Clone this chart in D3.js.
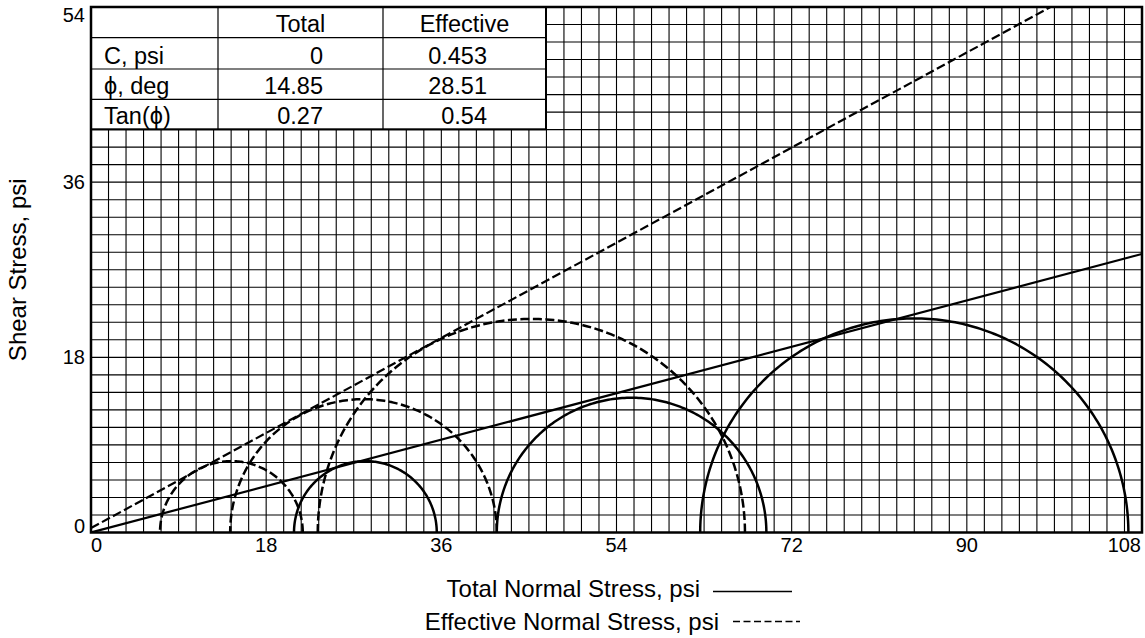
<!DOCTYPE html>
<html><head><meta charset="utf-8">
<script src="https://cdn.jsdelivr.net/npm/d3@7"></script>
<style>body{margin:0;background:#fff}svg{display:block}text{font-family:"Liberation Sans",Arial,sans-serif;fill:#000}</style>
</head><body><svg id="c" width="1145" height="638"></svg>
<script>
// ---- data ----
const xTicks = [0, 18, 36, 54, 72, 90, 108];
const yTicks = [0, 18, 36, 54];
const totalSigma3 = [20.86, 41.7, 62.6];
const totalSigma1 = [35.53, 69.4, 106.6];
const effSigma3 = [7.09, 14.3, 23.3];
const effSigma1 = [21.76, 41.7, 67.2];
const envelopeNames = ["Total", "Effective"];
const envelopeC = [0, 0.453];
const envelopeTan = [0.265, 0.543];
const tableHeader = ["", "Total", "Effective"];
const tableRowLabels = ["C, psi", "\u03d5, deg", "Tan(\u03d5)"];
const tableTotal = ["0", "14.85", "0.27"];
const tableEffective = ["0.453", "28.51", "0.54"];
const legendLabels = ["Total Normal Stress, psi", "Effective Normal Stress, psi"];

// ---- layout ----
const L = 91, T = 7, R = 1142, B = 532.5;
const svg = d3.select("#c");
const x = d3.scaleLinear().domain([0, 108]).range([L, R]);
const y = d3.scaleLinear().domain([0, 54]).range([B, T]);

svg.append("defs").append("clipPath").attr("id", "clip")
  .append("rect").attr("x", L).attr("y", T).attr("width", R - L).attr("height", B - T);

// grid
const gx = d3.range(0, 61).map(i => i * 1.8);
const gy = d3.range(0, 31).map(i => i * 1.8);
const grid = svg.append("g").attr("stroke", "#000").attr("stroke-width", 1.1);
grid.selectAll("line.v").data(gx).join("line").attr("class", "v")
  .attr("x1", d => x(d)).attr("x2", d => x(d)).attr("y1", T).attr("y2", B);
grid.selectAll("line.h").data(gy).join("line").attr("class", "h")
  .attr("y1", d => y(d)).attr("y2", d => y(d)).attr("x1", L).attr("x2", R);

// circles
const plot = svg.append("g").attr("clip-path", "url(#clip)");
function semi(s3, s1) {
  const c = (s3 + s1) / 2, r = (s1 - s3) / 2;
  const pts = d3.range(0, 181).map(a => {
    const t = a * Math.PI / 180;
    return [c + r * Math.cos(t), r * Math.sin(t)];
  });
  return d3.line().x(d => x(d[0])).y(d => y(d[1]))(pts);
}
const totals = totalSigma3.map((s, i) => [s, totalSigma1[i]]);
const effs = effSigma3.map((s, i) => [s, effSigma1[i]]);
plot.selectAll("path.tc").data(totals).join("path").attr("class", "tc")
  .attr("d", d => semi(d[0], d[1])).attr("fill", "none").attr("stroke", "#000").attr("stroke-width", 2.5);
plot.selectAll("path.ec").data(effs).join("path").attr("class", "ec")
  .attr("d", d => semi(d[0], d[1])).attr("fill", "none").attr("stroke", "#000").attr("stroke-width", 2.5)
  .attr("stroke-dasharray", "9,3.5");

// envelopes
envelopeNames.forEach((n, i) => {
  plot.append("line")
    .attr("x1", x(0)).attr("y1", y(envelopeC[i]))
    .attr("x2", x(108)).attr("y2", y(envelopeC[i] + envelopeTan[i] * 108))
    .attr("stroke", "#000").attr("stroke-width", 2.2)
    .attr("stroke-dasharray", i === 1 ? "9,3.5" : null);
});

// table
const colX = [L, 218, 383, 546];
const rowY = [T, 37.7, 69, 99.3, 129.3];
const tg = svg.append("g");
tg.append("rect").attr("x", L).attr("y", T).attr("width", colX[3] - L).attr("height", rowY[4] - T)
  .attr("fill", "#fff").attr("stroke", "#000").attr("stroke-width", 2);
rowY.slice(1, 4).forEach(v => tg.append("line").attr("x1", L).attr("x2", colX[3]).attr("y1", v).attr("y2", v)
  .attr("stroke", "#000").attr("stroke-width", 1.2));
colX.slice(1, 3).forEach(v => tg.append("line").attr("x1", v).attr("x2", v).attr("y1", T).attr("y2", rowY[4])
  .attr("stroke", "#000").attr("stroke-width", 1.2));
const fs = 23.5;
tableHeader.forEach((h, j) => {
  if (!h) return;
  tg.append("text").attr("x", (colX[j] + colX[j + 1]) / 2).attr("y", rowY[1] - 5.5)
    .attr("text-anchor", "middle").attr("font-size", fs).text(h);
});
tableRowLabels.forEach((lab, i) => {
  const by = rowY[i + 2] - 5.5;
  tg.append("text").attr("x", 104).attr("y", by).attr("font-size", fs).text(lab);
  tg.append("text").attr("x", colX[2] - 60).attr("y", by).attr("text-anchor", "end").attr("font-size", fs).text(tableTotal[i]);
  tg.append("text").attr("x", colX[3] - 59).attr("y", by).attr("text-anchor", "end").attr("font-size", fs).text(tableEffective[i]);
});

// frame
svg.append("rect").attr("x", L).attr("y", T).attr("width", R - L).attr("height", B - T)
  .attr("fill", "none").attr("stroke", "#000").attr("stroke-width", 2.5);

// tick labels
const tf = 20;
svg.selectAll("text.xt").data(xTicks).join("text").attr("class", "xt")
  .attr("x", (d, i) => i === 0 ? x(d) : i === xTicks.length - 1 ? x(d) - 1 : x(d))
  .attr("y", 552).attr("font-size", tf)
  .attr("text-anchor", (d, i) => i === 0 ? "start" : i === xTicks.length - 1 ? "end" : "middle")
  .text(d => d);
svg.selectAll("text.yt").data(yTicks).join("text").attr("class", "yt")
  .attr("x", 85).attr("y", (d, i) => i === 0 ? y(d) : i === yTicks.length - 1 ? y(d) + 1 : y(d))
  .attr("font-size", tf).attr("text-anchor", "end")
  .attr("dominant-baseline", (d, i) => i === 0 ? "alphabetic" : i === yTicks.length - 1 ? "hanging" : "central")
  .text(d => d);

// axis title
svg.append("text").attr("transform", `translate(26,${(T + B) / 2}) rotate(-90)`)
  .attr("text-anchor", "middle").attr("font-size", 24).text("Shear Stress, psi");

// legend
const lg = svg.append("g");
lg.append("text").attr("x", 700).attr("y", 597).attr("text-anchor", "end").attr("font-size", 24).text(legendLabels[0]);
lg.append("line").attr("x1", 713).attr("x2", 792).attr("y1", 591.5).attr("y2", 591.5).attr("stroke", "#000").attr("stroke-width", 1.3);
lg.append("text").attr("x", 719).attr("y", 630).attr("text-anchor", "end").attr("font-size", 24).text(legendLabels[1]);
lg.append("line").attr("x1", 733).attr("x2", 800).attr("y1", 621.5).attr("y2", 621.5).attr("stroke", "#000").attr("stroke-width", 1.3)
  .attr("stroke-dasharray", "7,3.5");
</script></body></html>
